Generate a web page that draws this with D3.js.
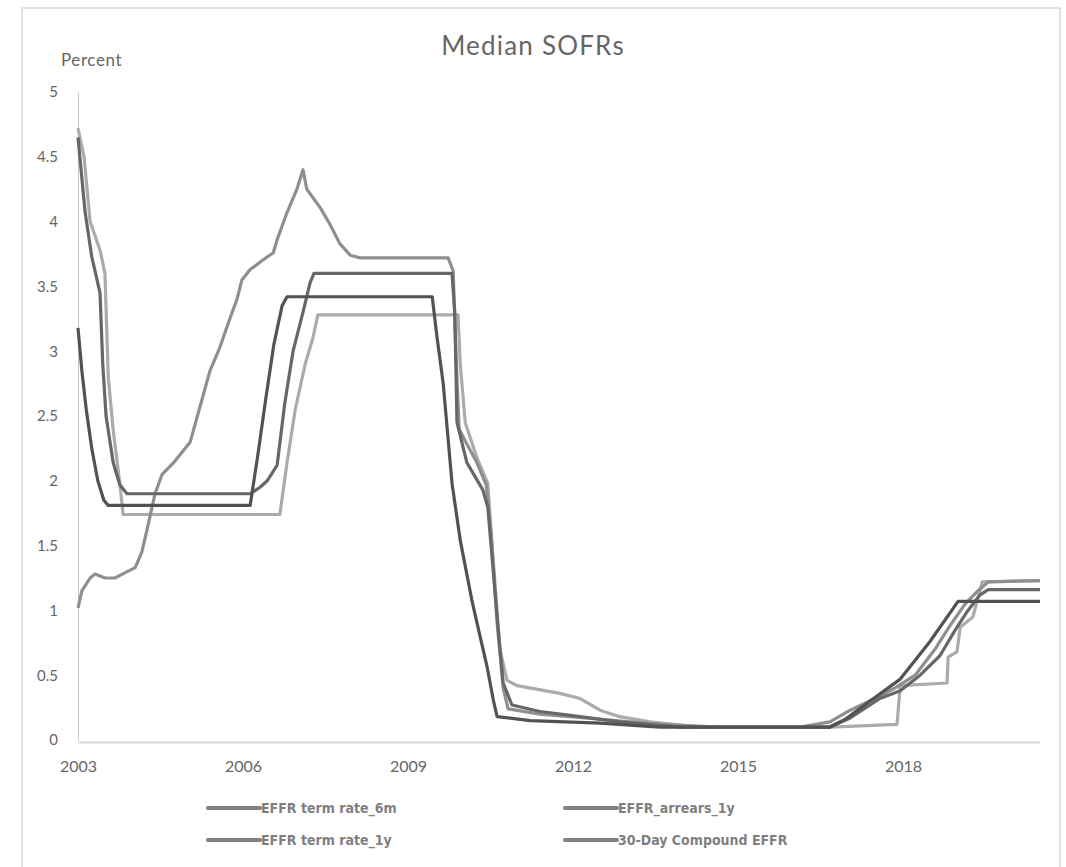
<!DOCTYPE html>
<html>
<head>
<meta charset="utf-8">
<script src="https://cdn.jsdelivr.net/npm/d3@7"></script>
<style>
  body { margin: 0; background: #fff; }
  svg text { font-family: Lato, "Open Sans", sans-serif; fill: #666; }
  .legend text { font-family: "DejaVu Sans Condensed", "DejaVu Sans", sans-serif; font-weight: bold; font-size: 14px; fill: #7f7f7f; }
</style>
</head>
<body>
<svg id="chart" width="1066" height="867"></svg>
<script>
// series, [decimal year, percent]
const term6m = [
  [2003.00, 3.18], [2003.07, 2.85], [2003.15, 2.55], [2003.25, 2.25], [2003.36, 2.0], [2003.47, 1.85],
  [2003.55, 1.81], [2006.13, 1.81], [2006.27, 2.2], [2006.42, 2.65], [2006.56, 3.05], [2006.71, 3.35],
  [2006.80, 3.42], [2009.44, 3.42], [2009.53, 3.1], [2009.64, 2.75], [2009.80, 1.98], [2009.95, 1.54],
  [2010.16, 1.08], [2010.31, 0.8], [2010.44, 0.56], [2010.55, 0.31], [2010.62, 0.18], [2011.22, 0.15],
  [2012.49, 0.13], [2013.58, 0.1], [2016.67, 0.1], [2016.95, 0.16], [2017.40, 0.3], [2017.95, 0.47],
  [2018.49, 0.76], [2019.00, 1.07], [2020.49, 1.07]
];
const arrears1y = [
  [2003.00, 4.65], [2003.13, 4.07], [2003.25, 3.73], [2003.40, 3.45], [2003.45, 2.9], [2003.51, 2.5],
  [2003.64, 2.14], [2003.76, 1.97], [2003.89, 1.9], [2006.13, 1.9], [2006.31, 1.95], [2006.44, 2.0],
  [2006.62, 2.12], [2006.76, 2.6], [2006.91, 3.0], [2007.09, 3.3], [2007.22, 3.53], [2007.29, 3.6],
  [2009.80, 3.6], [2009.85, 3.3], [2009.89, 2.45], [2010.07, 2.14], [2010.36, 1.93], [2010.45, 1.8],
  [2010.62, 0.95], [2010.73, 0.44], [2010.89, 0.27], [2011.40, 0.22], [2012.13, 0.18], [2012.85, 0.14],
  [2013.95, 0.1], [2016.67, 0.1], [2017.04, 0.17], [2017.58, 0.32], [2017.95, 0.38], [2018.31, 0.5],
  [2018.67, 0.65], [2018.95, 0.85], [2019.18, 1.0], [2019.40, 1.12], [2019.55, 1.16], [2020.49, 1.16]
];
const term1y = [
  [2003.00, 4.72], [2003.11, 4.5], [2003.22, 4.0], [2003.40, 3.78], [2003.49, 3.6], [2003.55, 2.8],
  [2003.64, 2.39], [2003.76, 1.98], [2003.82, 1.74], [2006.67, 1.74], [2006.80, 2.14], [2006.95, 2.55],
  [2007.13, 2.9], [2007.27, 3.1], [2007.36, 3.28], [2009.91, 3.28], [2009.95, 2.9], [2010.04, 2.45],
  [2010.25, 2.18], [2010.45, 1.98], [2010.53, 1.5], [2010.67, 0.7], [2010.80, 0.46], [2010.98, 0.42],
  [2011.76, 0.36], [2012.13, 0.32], [2012.49, 0.23], [2012.85, 0.18], [2013.40, 0.14], [2014.31, 0.1],
  [2016.67, 0.1], [2017.89, 0.12], [2017.95, 0.42], [2018.80, 0.44], [2018.82, 0.64], [2018.98, 0.68],
  [2019.04, 0.87], [2019.27, 0.95], [2019.35, 1.08], [2019.44, 1.22], [2020.49, 1.23]
];
const compound30d = [
  [2003.00, 1.02], [2003.07, 1.15], [2003.22, 1.25], [2003.31, 1.28], [2003.49, 1.25], [2003.67, 1.25],
  [2003.85, 1.29], [2004.04, 1.33], [2004.16, 1.45], [2004.27, 1.65], [2004.40, 1.9], [2004.53, 2.05],
  [2004.76, 2.15], [2005.04, 2.3], [2005.25, 2.62], [2005.40, 2.85], [2005.58, 3.03], [2005.76, 3.25],
  [2005.89, 3.4], [2005.98, 3.55], [2006.13, 3.63], [2006.35, 3.7], [2006.55, 3.76], [2006.62, 3.86],
  [2006.80, 4.07], [2006.98, 4.25], [2007.09, 4.4], [2007.16, 4.25], [2007.40, 4.11], [2007.58, 3.98],
  [2007.76, 3.83], [2007.95, 3.74], [2008.13, 3.72], [2009.73, 3.72], [2009.82, 3.62], [2009.87, 3.0],
  [2009.93, 2.4], [2010.05, 2.3], [2010.24, 2.15], [2010.42, 1.97], [2010.51, 1.6], [2010.62, 0.9],
  [2010.73, 0.4], [2010.82, 0.24], [2011.40, 0.2], [2012.49, 0.16], [2013.58, 0.12], [2014.67, 0.1],
  [2016.13, 0.1], [2016.67, 0.14], [2017.04, 0.23], [2017.49, 0.32], [2017.85, 0.4], [2018.22, 0.5],
  [2018.58, 0.7], [2018.85, 0.88], [2019.13, 1.05], [2019.36, 1.15], [2019.55, 1.22], [2020.49, 1.23]
];

const seriesNames = ["EFFR term rate_6m", "EFFR_arrears_1y", "EFFR term rate_1y", "30-Day Compound EFFR"];
const seriesColors = ["#525252", "#676767", "#ababab", "#8f8f8f"];
const yTicks = [0, 0.5, 1, 1.5, 2, 2.5, 3, 3.5, 4, 4.5, 5];
const xTicks = [2003, 2006, 2009, 2012, 2015, 2018];

const series = [term6m, arrears1y, term1y, compound30d];

const svg = d3.select('#chart');

// chart frame
svg.append('rect')
  .attr('x', 22).attr('y', 8)
  .attr('width', 1038).attr('height', 880)
  .attr('fill', '#fff')
  .attr('stroke', '#d9d9d9')
  .attr('stroke-width', 1.5);

const x = d3.scaleLinear().domain([2003, 2020.49]).range([78, 1040]);
const y = d3.scaleLinear().domain([0, 5]).range([740, 92]);

// y axis
const yAxis = svg.append('g')
  .attr('transform', 'translate(78,0)')
  .call(d3.axisLeft(y).tickValues(yTicks).tickSize(0).tickPadding(20).tickFormat(d3.format('')));
yAxis.select('.domain').attr('stroke', '#c8c8c8').attr('stroke-width', 1);
yAxis.selectAll('text').style('font-size', '15px');

// x axis
const xAxis = svg.append('g')
  .attr('transform', 'translate(0,742)')
  .call(d3.axisBottom(x).tickValues(xTicks).tickSize(0).tickPadding(19).tickFormat(d3.format('d')));
xAxis.select('.domain').attr('stroke', '#d9d9d9').attr('stroke-width', 2);
xAxis.selectAll('text').style('font-size', '16px');

svg.append('text')
  .attr('x', 533).attr('y', 55)
  .attr('text-anchor', 'middle')
  .style('font-size', '26px')
  .style('letter-spacing', '1.2px')
  .text('Median SOFRs');

svg.append('text')
  .attr('x', 61).attr('y', 66)
  .style('font-size', '17px')
  .style('letter-spacing', '0.6px')
  .text('Percent');

const line = d3.line()
  .x(d => x(d[0]))
  .y(d => y(d[1]));

// draw light ones first so darker lines sit on top
const order = [2, 3, 1, 0];
svg.append('g').selectAll('path')
  .data(order)
  .enter().append('path')
  .attr('d', i => line(series[i]))
  .attr('fill', 'none')
  .attr('stroke', i => seriesColors[i])
  .attr('stroke-width', 3.2)
  .attr('stroke-linejoin', 'round');

// legend
const legendPos = [[208, 808], [565, 808], [208, 840], [565, 840]];
const legendOrder = [0, 1, 2, 3];
const legend = svg.append('g').attr('class', 'legend')
  .selectAll('g')
  .data(legendOrder)
  .enter().append('g')
  .attr('transform', (d, i) => `translate(${legendPos[i][0]},${legendPos[i][1]})`);

legend.append('line')
  .attr('x1', 0).attr('x2', 52)
  .attr('stroke', '#808080')
  .attr('stroke-width', 4)
  .attr('stroke-linecap', 'round');

legend.append('text')
  .attr('x', 53).attr('dy', '0.35em')
  .text(i => seriesNames[i]);
</script>
</body>
</html>
